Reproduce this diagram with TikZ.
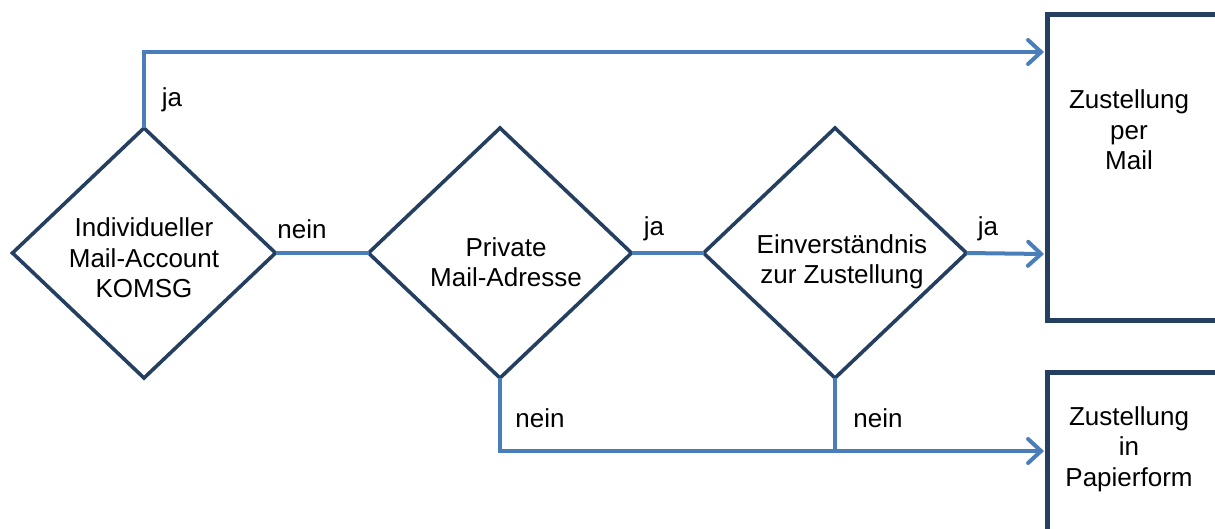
\documentclass[tikz,border=0pt]{standalone}
\usepackage{fontspec}
\setmainfont{Liberation Sans}
\usetikzlibrary{shapes.geometric,arrows.meta}
\definecolor{navy}{HTML}{243F60}
\definecolor{flowblue}{HTML}{4A7EBB}
\tikzset{
  decision/.style={diamond, draw=navy, line width=3.6pt, fill=white,
    minimum width=263pt, minimum height=250pt, inner sep=0pt, outer sep=0pt, aspect=1.05},
  target/.style={rectangle, draw=navy, line width=5pt, fill=white,
    inner sep=0pt, outer sep=0pt},
  txt/.style={align=center, font=\fontsize{26}{30.5}\selectfont, inner sep=0pt},
  flow/.style={draw=flowblue, line width=4pt},
  flowarrow/.style={flow, -{Straight Barb[length=13pt,width=24pt,line cap=round]}},
}
\begin{document}
\begin{tikzpicture}[x=1pt, y=-1pt]
\clip (0,0) rectangle (1215,528);
\fill[white] (0,0) rectangle (1215,528);

% decisions
\node[decision] (d1) at (144,253) {};
\node[decision] (d2) at (500,253) {};
\node[decision] (d3) at (835,253) {};
\node[txt] (t1) at (144,258) {Individueller\\Mail-Account\\KOMSG};
\node[txt] (t2) at (506,262) {Private\\Mail-Adresse};
\node[txt] (t3) at (842,262) {Einverständnis\\zur Zustellung};

% outcomes (running off the right and bottom edges)
\node[target, minimum width=193pt, minimum height=306pt] (b1) at (1143.5,167) {};
\node[target, minimum width=193pt, minimum height=188pt] (b2) at (1143.5,466) {};
\node[txt] (tb1) at (1129,130) {Zustellung\\per\\Mail};
\node[txt] (tb2) at (1129,449) {Zustellung\\in\\Papierform};

% arrow end points on the outcome boxes
\coordinate (inTop) at (1044,52);
\coordinate (inMid) at (1044,254);
\coordinate (inLow) at (1044,451);

% connectors
\draw[flowarrow] (d1.north) |- (inTop);
\draw[flow] (d1.east) -- (d2.west);
\draw[flow] (d2.east) -- (d3.west);
\draw[flowarrow] (d3.east) -- (inMid);
\draw[flowarrow] (d2.south) |- (inLow);
\draw[flow] (d3.south) -- (d3.south |- inLow);

% branch labels
\node[txt] (l1) at (172,100) {ja};
\node[txt] (l2) at (302,229) {nein};
\node[txt] (l3) at (654,229) {ja};
\node[txt] (l4) at (988,229) {ja};
\node[txt] (l5) at (540,418) {nein};
\node[txt] (l6) at (878,418) {nein};
\end{tikzpicture}
\end{document}
